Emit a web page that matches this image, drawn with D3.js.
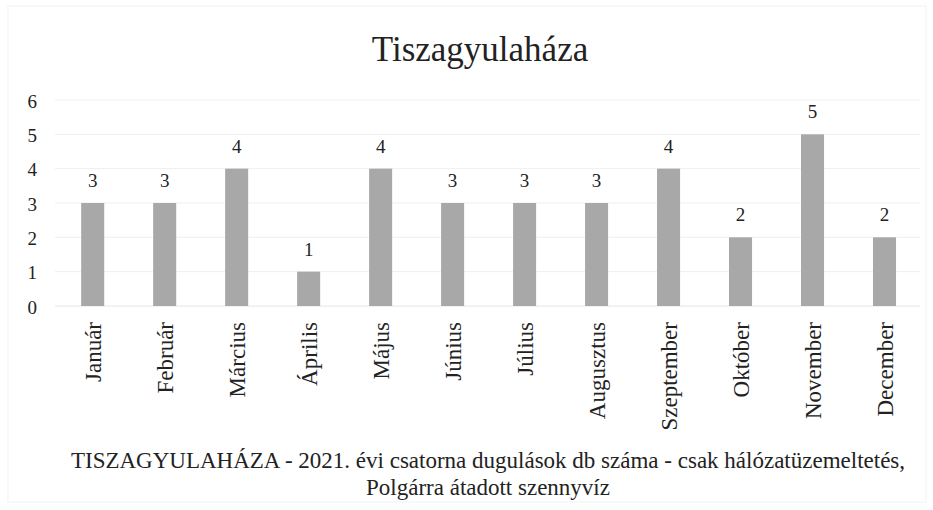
<!DOCTYPE html>
<html>
<head>
	<meta charset="utf-8" />
	<title>Tiszagyulaháza</title>
	<script src="https://cdn.jsdelivr.net/npm/d3@7"></script>
	<style>
		body { margin: 0; background: #fff; }
		svg text { font-family: "Liberation Serif", "DejaVu Serif", serif; fill: #222; }
	</style>
</head>
<body>
<script>

var months = ["Január", "Február", "Március", "Április", "Május", "Június",
	"Július", "Augusztus", "Szeptember", "Október", "November", "December"];
var values = [3, 3, 4, 1, 4, 3, 3, 3, 4, 2, 5, 2];
var yTicks = [0, 1, 2, 3, 4, 5, 6];

var width = 933, height = 510;
var svg = d3.select("body").append("svg")
	.attr("width", width)
	.attr("height", height);

// faint page frame like the scanned original
svg.append("rect")
	.attr("x", 8).attr("y", 6)
	.attr("width", 918).attr("height", 496)
	.attr("fill", "none")
	.attr("stroke", "#f2f2f2");

var x = d3.scaleBand()
	.domain(months)
	.range([56.7, 920.5])
	.paddingInner(0.68)
	.paddingOuter(0.34);

var y = d3.scaleLinear()
	.domain([0, 6])
	.range([306, 100]);

// gridlines
svg.append("g")
	.selectAll("line")
	.data(yTicks)
	.enter()
	.append("line")
	.attr("x1", 55)
	.attr("x2", 920)
	.attr("y1", function(d){ return y(d); })
	.attr("y2", function(d){ return y(d); })
	.attr("stroke", function(d){ return d === 0 ? "#e4e4e4" : "#efefef"; })
	.attr("stroke-width", 1);

// y axis labels
var yAxis = svg.append("g")
	.attr("transform", "translate(37,0)")
	.call(d3.axisLeft(y).tickValues(yTicks).tickFormat(d3.format("d")).tickSize(0).tickPadding(0));
yAxis.select(".domain").remove();
yAxis.selectAll("text")
	.style("font-size", "19px")
	.attr("dy", "0.38em");

// bars
svg.append("g")
	.selectAll("rect")
	.data(values)
	.enter()
	.append("rect")
	.attr("x", function(d, i){ return x(months[i]); })
	.attr("y", function(d){ return y(d); })
	.attr("width", x.bandwidth())
	.attr("height", function(d){ return y(0) - y(d); })
	.attr("fill", "#a8a8a8");

// value labels
svg.append("g")
	.selectAll("text")
	.data(values)
	.enter()
	.append("text")
	.attr("x", function(d, i){ return x(months[i]) + x.bandwidth() / 2; })
	.attr("y", function(d){ return y(d) - 16; })
	.attr("text-anchor", "middle")
	.style("font-size", "19px")
	.text(function(d){ return d; });

// month labels (rotated)
var xAxis = svg.append("g")
	.attr("transform", "translate(0,306)")
	.call(d3.axisBottom(x).tickSize(0).tickPadding(0));
xAxis.select(".domain").remove();
xAxis.selectAll("text")
	.style("font-size", "23px")
	.attr("text-anchor", "end")
	.attr("dy", "0.35em")
	.attr("transform", "translate(0,16) rotate(-90)");

// title
svg.append("text")
	.attr("x", 480)
	.attr("y", 61)
	.attr("text-anchor", "middle")
	.style("font-size", "35px")
	.text("Tiszagyulaháza");

// caption
svg.append("text")
	.attr("x", 488)
	.attr("y", 468)
	.attr("text-anchor", "middle")
	.style("font-size", "23px")
	.text("TISZAGYULAHÁZA - 2021. évi csatorna dugulások db száma - csak hálózatüzemeltetés,");
svg.append("text")
	.attr("x", 488)
	.attr("y", 495)
	.attr("text-anchor", "middle")
	.style("font-size", "23px")
	.text("Polgárra átadott szennyvíz");

</script>
</body>
</html>
